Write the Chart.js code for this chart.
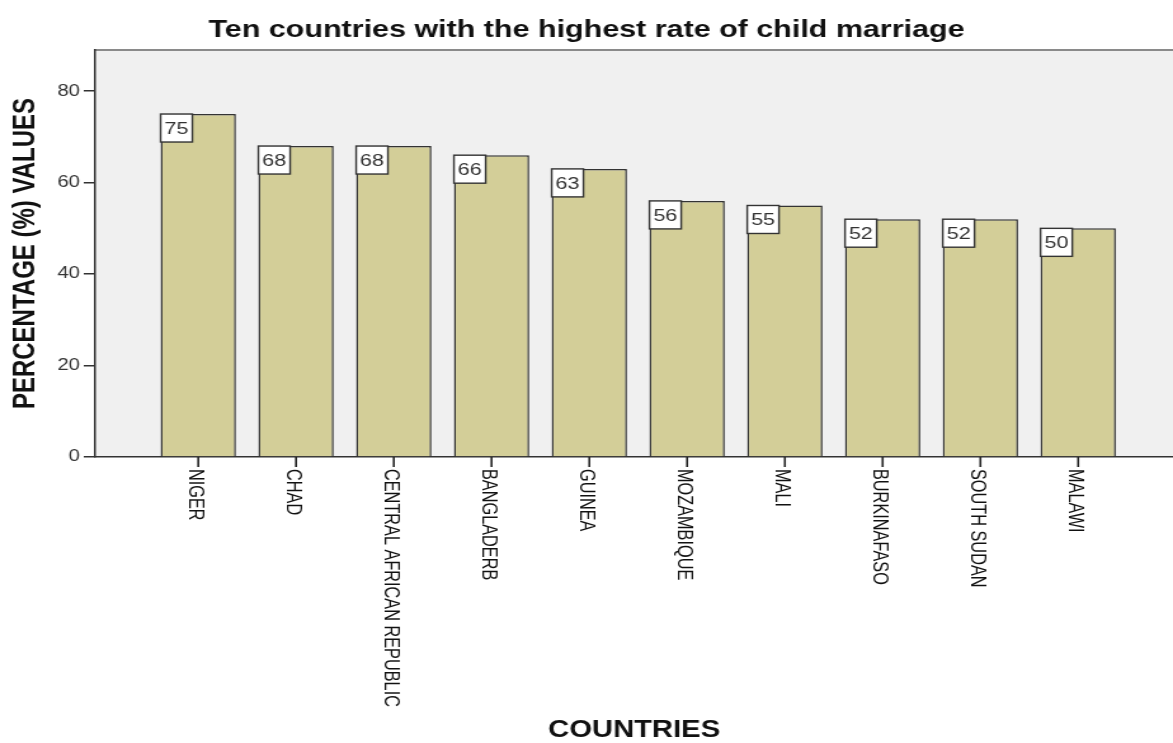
<!DOCTYPE html>
<html><head><meta charset="utf-8">
<script src="https://cdn.jsdelivr.net/npm/chart.js@4/dist/chart.umd.min.js"></script>
<style>html,body{margin:0;padding:0;background:#fff;overflow:hidden}
#c{display:block}</style>
</head><body>
<canvas id="c" width="924" height="743" style="width:1173px;height:743px"></canvas>
<script>
const categories = ['NIGER','CHAD','CENTRAL AFRICAN REPUBLIC','BANGLADERB','GUINEA','MOZAMBIQUE','MALI','BURKINAFASO','SOUTH SUDAN','MALAWI'];
const values = [75, 68, 68, 66, 63, 56, 55, 52, 52, 50];
const yTicks = [0, 20, 40, 60, 80];
const chartTitle = 'Ten countries with the highest rate of child marriage';
const xTitle = 'COUNTRIES';
const yTitle = 'PERCENTAGE (%) VALUES';

const FONT = '"Liberation Sans", Arial, Helvetica, sans-serif';

const bgPlugin = {
  id: 'bg',
  beforeDraw(chart) {
    const {ctx, chartArea: a, width, height} = chart;
    ctx.save();
    ctx.fillStyle = '#ffffff';
    ctx.fillRect(0, 0, width, height);
    ctx.fillStyle = '#f0f0f0';
    ctx.fillRect(a.left, a.top, a.right - a.left, a.bottom - a.top);
    ctx.strokeStyle = '#8a8a8a';
    ctx.lineWidth = 2;
    ctx.beginPath();
    ctx.moveTo(a.left, a.top);
    ctx.lineTo(a.right, a.top);
    ctx.stroke();
    ctx.restore();
  }
};

const valueBoxPlugin = {
  id: 'valueBoxes',
  afterDatasetsDraw(chart) {
    const {ctx} = chart;
    const meta = chart.getDatasetMeta(0);
    ctx.save();
    meta.data.forEach((el, i) => {
      const x0 = el.x - el.width / 2;
      const y0 = el.y;
      const w = 25, h = 28;
      ctx.fillStyle = '#ffffff';
      ctx.fillRect(x0, y0, w, h);
      ctx.strokeStyle = '#333333';
      ctx.lineWidth = 1.4;
      ctx.strokeRect(x0, y0, w, h);
      ctx.fillStyle = '#333333';
      ctx.font = '17px ' + FONT;
      ctx.textAlign = 'center';
      ctx.textBaseline = 'middle';
      ctx.fillText(String(values[i]), x0 + w / 2, y0 + h / 2 + 1);
    });
    ctx.restore();
  }
};

const xLabelPlugin = {
  id: 'xLabels',
  afterDraw(chart) {
    const {ctx} = chart;
    const xs = chart.scales.x;
    ctx.save();
    ctx.font = '16.3px ' + FONT;
    ctx.textAlign = 'left';
    ctx.textBaseline = 'middle';
    xs.ticks.forEach(t => {
      const label = categories[t.value - 1];
      if (!label) return;
      const px = xs.getPixelForValue(t.value);
      // tick mark
      ctx.strokeStyle = '#222222';
      ctx.lineWidth = 1.6;
      ctx.beginPath();
      ctx.moveTo(px, xs.top);
      ctx.lineTo(px, xs.top + 10);
      ctx.stroke();
      // label
      ctx.fillStyle = '#111111';
      ctx.save();
      ctx.translate(px - 2.4, xs.top + 12);
      ctx.rotate(Math.PI / 2);
      ctx.fillText(label, 0, 0);
      ctx.restore();
    });
    ctx.restore();
  }
};

new Chart(document.getElementById('c'), {
  type: 'bar',
  data: {
    datasets: [{
      data: categories.map((c, i) => ({x: i + 1, y: values[i]})),
      backgroundColor: '#d3ce98',
      borderColor: '#333333',
      borderWidth: 1.5,
      barPercentage: 0.77,
      categoryPercentage: 1
    }]
  },
  options: {
    responsive: false,
    animation: false,
    devicePixelRatio: 1,
    layout: {padding: 0},
    plugins: {
      legend: {display: false},
      tooltip: {enabled: false},
      title: {
        display: true,
        text: chartTitle,
        color: '#111111',
        font: {family: FONT, size: 24, weight: 'bold', lineHeight: 1.2},
        padding: {top: 15.6, bottom: 5.6}
      }
    },
    scales: {
      x: {
        type: 'linear',
        offset: false,
        min: -0.054,
        max: 10.97,
        afterBuildTicks: s => { s.ticks = categories.map((c, i) => ({value: i + 1})); },
        ticks: {display: false},
        grid: {offset: false, drawOnChartArea: false, drawTicks: false},
        border: {display: true, color: '#333333', width: 1.5},
        title: {
          display: true, text: xTitle, color: '#111111',
          font: {family: FONT, size: 23, weight: 'bold', lineHeight: 1},
          padding: {top: 0, bottom: 1}
        },
        afterFit: s => { s.height = 286; }
      },
      y: {
        min: 0,
        max: 89,
        afterBuildTicks: s => { s.ticks = yTicks.map(v => ({value: v})); },
        ticks: {font: {family: FONT, size: 16}, color: '#333333', padding: 3},
        grid: {drawOnChartArea: false, drawTicks: true, tickLength: 9, color: '#333333', lineWidth: 1.5},
        border: {display: true, color: '#333333', width: 1.5},
        title: {
          display: true, text: yTitle, color: '#111111',
          font: {family: FONT, size: 24, weight: 'bold', lineHeight: 1},
          padding: {top: 8, bottom: 0}
        },
        afterFit: s => { s.width = 75; }
      }
    }
  },
  plugins: [bgPlugin, valueBoxPlugin, xLabelPlugin]
});
</script>
</body></html>
